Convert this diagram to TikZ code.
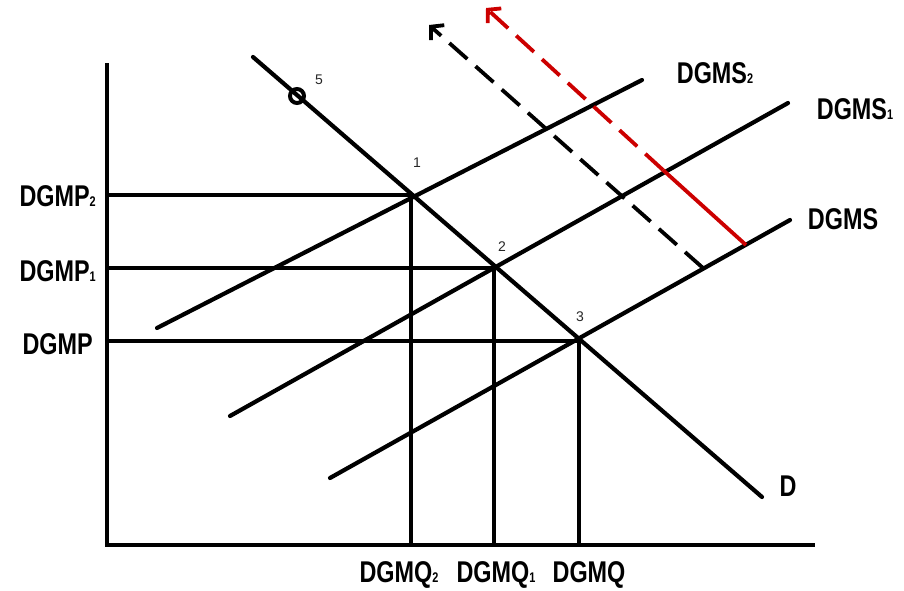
\documentclass[tikz,border=0pt]{standalone}
\usepackage{fontspec}
\setmainfont{Liberation Sans}
\newfontfamily\lblfont{Liberation Sans}[FakeStretch=0.78]
\usetikzlibrary{arrows.meta}
\newcommand{\sbs}[1]{{\fontsize{14}{14}\selectfont #1}}
\tikzset{
  curve/.style={line width=4.2pt, line cap=round},
  guide/.style={line width=4.2pt},
  lbl/.style={font=\lblfont\bfseries\fontsize{30}{30}\selectfont, inner sep=0pt},
  num/.style={font=\fontsize{14}{14}\selectfont, inner sep=0pt, text=black!85},
  shiftarrow/.style={line width=3.8pt, dash pattern=on 24pt off 11pt, -{Straight Barb[length=9pt,width=20pt,line width=3.8pt]}},
}
\begin{document}
\begin{tikzpicture}[x=1pt,y=-1pt]
\useasboundingbox (0,0) rectangle (904,590);
% key coordinates
\coordinate (o) at (107,545);
\coordinate (ytop) at (107,63);
\coordinate (xend) at (815,545);
\coordinate (p1) at (411,195);
\coordinate (p2) at (494,268);
\coordinate (p3) at (579,341);
\coordinate (d0) at (253,57);
\coordinate (d1) at (762,497);
\coordinate (a0) at (157,328);
\coordinate (a1) at (642,80);
\coordinate (b0) at (230,416);
\coordinate (b1) at (788,103);
\coordinate (c0) at (330,478);
\coordinate (c1) at (790,220);
\coordinate (blk0) at (703,268);
\coordinate (blk1) at (429,25);
\coordinate (red0) at (746,245);
\coordinate (redm) at (663,170);
\coordinate (red1) at (486,8);
\coordinate (y1) at (107,195);
\coordinate (y2) at (107,268);
\coordinate (y3) at (107,341);
\coordinate (x1) at (411,545);
\coordinate (x2) at (494,545);
\coordinate (x3) at (579,545);
% axes
\draw[guide] (ytop) -- (o) -- (xend);
% guides
\draw[guide] (y1) -- (p1) -- (x1);
\draw[guide] (y2) -- (p2) -- (x2);
\draw[guide] (y3) -- (p3) -- (x3);
% curves
\draw[curve] (d0) -- (d1);
\draw[curve] (a0) -- (a1);
\draw[curve] (b0) -- (b1);
\draw[curve] (c0) -- (c1);
% shift arrows
\draw[shiftarrow, black] (blk0) -- (blk1);
\draw[line width=3.8pt, red!80!black] (red0) -- (redm);
\draw[shiftarrow, red!80!black] (redm) -- (red1);
% point 5
\node[circle, draw, line width=4pt, minimum size=14pt, inner sep=0pt] (c5) at (297,96) {};
% labels
\node[num] (n5) at (319,80) {5};
\node[num] (n1) at (417,163) {1};
\node[num] (n2) at (502,247) {2};
\node[num] (n3) at (580,317) {3};
\node[lbl] (ls2) at (715,73) {DGMS\sbs{2}};
\node[lbl] (ls1) at (855,109) {DGMS\sbs{1}};
\node[lbl] (ls) at (843,219) {DGMS};
\node[lbl] (ld) at (788,486) {D};
\node[lbl, anchor=east] (lp2) at (96,196) {DGMP\sbs{2}};
\node[lbl, anchor=east] (lp1) at (96,271) {DGMP\sbs{1}};
\node[lbl, anchor=east] (lp) at (93,344) {DGMP};
\node[lbl] (lq2) at (399,575) {DGMQ\sbs{2}};
\node[lbl] (lq1) at (496,575) {DGMQ\sbs{1}};
\node[lbl] (lq) at (589,575) {DGMQ};
\end{tikzpicture}
\end{document}
